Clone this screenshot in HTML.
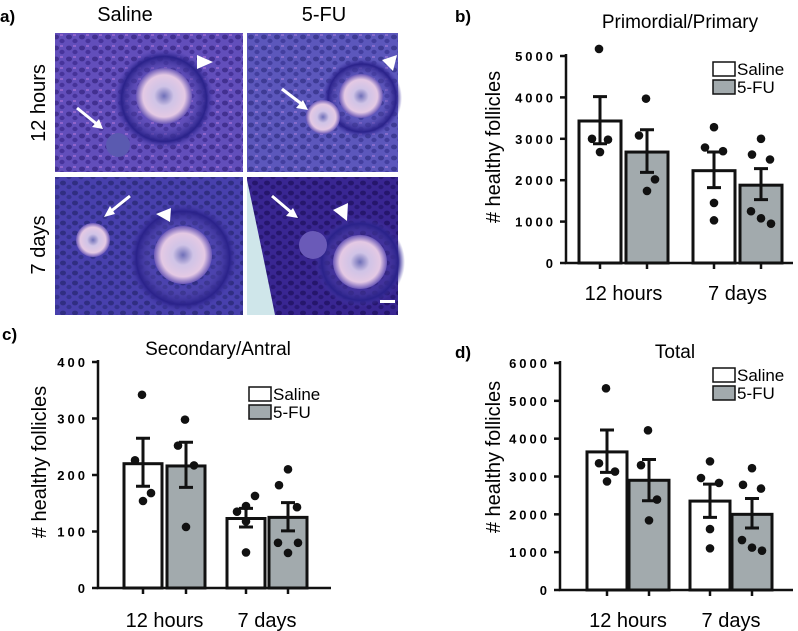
<!DOCTYPE html>
<html><head><meta charset="utf-8"><style>
html,body{margin:0;padding:0;background:#fff;}
svg{display:block;font-family:"Liberation Sans",Arial,sans-serif;}
</style></head><body>
<svg id="fig" width="798" height="631" viewBox="0 0 798 631" xmlns="http://www.w3.org/2000/svg">
<defs>
<radialGradient id="oo" cx="50%" cy="50%" r="50%"><stop offset="0" stop-color="#6f6fb8"/><stop offset="0.35" stop-color="#cfc3e6"/><stop offset="0.75" stop-color="#e4c9e4"/><stop offset="1" stop-color="#6b58b8"/></radialGradient>
<radialGradient id="ring" cx="50%" cy="50%" r="50%"><stop offset="0.5" stop-color="#6a5cc0" stop-opacity="0"/><stop offset="0.85" stop-color="#2a228a"/><stop offset="1" stop-color="#4b3fae" stop-opacity="0"/></radialGradient>
<pattern id="cells" width="13" height="11" patternUnits="userSpaceOnUse"><rect width="13" height="11" fill="#4f48b4"/><ellipse cx="4" cy="4" rx="3" ry="2.4" fill="#24207c"/><ellipse cx="10" cy="8" rx="2.6" ry="2.2" fill="#2a2588"/><rect x="8" y="1" width="3" height="2" fill="#b07ad8" opacity="0.6"/></pattern>
<pattern id="cellsDark" width="12" height="10" patternUnits="userSpaceOnUse"><rect width="12" height="10" fill="#3a2f9e"/><ellipse cx="3" cy="3" rx="3" ry="2.4" fill="#181560"/><ellipse cx="9" cy="7" rx="2.6" ry="2.2" fill="#1f1a70"/></pattern>
</defs>

<text x="0" y="22" font-size="17" font-weight="bold">a)</text>
<text x="125" y="21" font-size="20" text-anchor="middle">Saline</text>
<text x="324" y="21" font-size="20" text-anchor="middle">5-FU</text>
<text transform="translate(45,103) rotate(-90)" font-size="20" text-anchor="middle">12 hours</text>
<text transform="translate(45,245) rotate(-90)" font-size="20" text-anchor="middle">7 days</text>

<g>
<rect x="55" y="33" width="188" height="139" fill="url(#cells)"/>
<rect x="55" y="33" width="188" height="139" fill="#9a5fd0" opacity="0.25"/>
<circle cx="164" cy="99" r="50" fill="url(#ring)"/>
<circle cx="164" cy="96" r="28" fill="url(#oo)"/>
<circle cx="118" cy="145" r="12" fill="#5a5ab0"/>
<polygon points="197,55 213,62 197,69" fill="#fff"/>
<line x1="77" y1="108" x2="98" y2="125" stroke="#fff" stroke-width="3"/><polygon points="103,129 92,127 99,119" fill="#fff"/>
</g>
<g>
<rect x="247" y="33" width="151" height="139" fill="url(#cells)"/>
<rect x="247" y="33" width="151" height="139" fill="#7a7ad0" opacity="0.3"/>
<circle cx="362" cy="98" r="40" fill="url(#ring)"/>
<circle cx="361" cy="96" r="22" fill="url(#oo)"/>
<circle cx="323" cy="117" r="17" fill="url(#oo)"/>
<polygon points="382,60 397,55 393,71" fill="#fff"/>
<line x1="282" y1="89" x2="303" y2="105" stroke="#fff" stroke-width="3"/><polygon points="308,110 296,108 303,100" fill="#fff"/>
</g>
<g>
<rect x="55" y="177" width="188" height="138" fill="url(#cellsDark)"/>
<rect x="55" y="177" width="188" height="138" fill="#6a6ad0" opacity="0.3"/>
<circle cx="183" cy="258" r="55" fill="url(#ring)"/>
<circle cx="183" cy="255" r="29" fill="url(#oo)"/>
<circle cx="93" cy="240" r="17" fill="url(#oo)"/>
<polygon points="171,208 156,214 170,222" fill="#fff"/>
<line x1="130" y1="196" x2="110" y2="212" stroke="#fff" stroke-width="3"/><polygon points="104,217 110,206 115,214" fill="#fff"/>
</g>
<g>
<rect x="247" y="177" width="151" height="138" fill="url(#cellsDark)"/>
<rect x="247" y="177" width="151" height="138" fill="#3a1a80" opacity="0.4"/>
<path d="M247,180 Q262,250 275,315 L247,315 Z" fill="#cfe6ea"/>
<circle cx="360" cy="262" r="45" fill="url(#ring)"/>
<circle cx="360" cy="262" r="27" fill="url(#oo)"/>
<circle cx="313" cy="245" r="14" fill="#6a5ab8"/>
<polygon points="333,210 348,203 347,221" fill="#fff"/>
<line x1="272" y1="196" x2="292" y2="213" stroke="#fff" stroke-width="3"/><polygon points="298,218 286,216 293,208" fill="#fff"/>
<rect x="380" y="300" width="15" height="3" fill="#fff"/>
</g>
<g id="charts"></g>
</svg>
<script>
// ---- Panel b: Primordial/Primary ----
const bCategories = ["12 hours", "7 days"];
const bSalineMeans = [3430, 2230];
const b5fuMeans = [2680, 1880];
const bSalineSem = [[2880, 4020], [1820, 2680]];
const b5fuSem = [[2190, 3220], [1530, 2280]];
const bSalinePts = [[5170, 3000, 2980, 2680], [3280, 2790, 2700, 1450, 1030]];
const b5fuPts = [[3970, 3080, 2020, 1740], [3000, 2620, 2500, 1250, 950, 1080]];
const bTicks = [0, 1000, 2000, 3000, 4000, 5000];

// ---- Panel c: Secondary/Antral ----
const cCategories = ["12 hours", "7 days"];
const cSalineMeans = [220, 123];
const c5fuMeans = [216, 125];
const cSalineSem = [[180, 265], [108, 141]];
const c5fuSem = [[178, 258], [101, 151]];
const cSalinePts = [[342, 226, 168, 154], [145, 135, 163, 118, 63]];
const c5fuPts = [[298, 252, 217, 108], [210, 182, 143, 80, 80, 62]];
const cTicks = [0, 100, 200, 300, 400];

// ---- Panel d: Total ----
const dCategories = ["12 hours", "7 days"];
const dSalineMeans = [3650, 2350];
const d5fuMeans = [2900, 2000];
const dSalineSem = [[3110, 4230], [1920, 2800]];
const d5fuSem = [[2360, 3450], [1640, 2420]];
const dSalinePts = [[5330, 3350, 3130, 2870], [3400, 2960, 2830, 1610, 1100]];
const d5fuPts = [[4220, 3300, 2390, 1840], [3220, 2780, 2680, 1320, 1040, 1120]];
const dTicks = [0, 1000, 2000, 3000, 4000, 5000, 6000];

const NS = "http://www.w3.org/2000/svg";
const root = document.getElementById("charts");
function mk(tag, attrs, parent) {
  const e = document.createElementNS(NS, tag);
  for (const k in attrs) e.setAttribute(k, attrs[k]);
  (parent || root).appendChild(e);
  return e;
}
const jit4 = [-1, -8, 8, 0];
const jit5 = [0, -9, 9, 0, 0];
const jit6 = [0, -9, 9, -10, 10, 0];
function jitter(n, i) { return (n === 4 ? jit4 : n === 5 ? jit5 : jit6)[i] || 0; }

function panel(cfg) {
  const g = mk("g", {});
  
  
  const y = v => cfg.y0 - (v / cfg.topVal) * (cfg.y0 - cfg.yTop);
  const pl = mk("text", {x: cfg.lx, y: cfg.ly, "font-size": 17, "font-weight": "bold"}, g);
  pl.textContent = cfg.letter;
  
  
  const tt = mk("text", {x: cfg.tx, y: cfg.ty, "font-size": 19, "text-anchor": "middle"}, g);
  tt.textContent = cfg.title;
  
  
  const yt = mk("text", {transform: `translate(${cfg.ytx},${cfg.yty}) rotate(-90)`, "font-size": 20, "text-anchor": "middle"}, g);
  yt.textContent = "# healthy follicles";
  
  
  const groups = [[cfg.sMeans, cfg.sSem, cfg.sPts, "#fff", "saline"], [cfg.fMeans, cfg.fSem, cfg.fPts, "#a2aaad", "5fu"]];
  cfg.cats.forEach((cat, ci) => {
    groups.forEach((gr, si) => {
      const cx = cfg.centers[ci * 2 + si];
      const w = cfg.bw;
      const b = mk("rect", {x: cx - w / 2, y: y(gr[0][ci]), width: w, height: cfg.y0 - y(gr[0][ci]), fill: gr[3], stroke: "#111", "stroke-width": 3}, g);
      
      
      const sem = gr[1][ci];
      const eb = mk("path", {d: `M${cx},${y(sem[0])}V${y(sem[1])}M${cx - 7},${y(sem[0])}H${cx + 7}M${cx - 7},${y(sem[1])}H${cx + 7}`, stroke: "#111", "stroke-width": 3, fill: "none"}, g);
      
      
      const pts = gr[2][ci];
      pts.forEach((v, pi) => {
        const p = mk("circle", {cx: cx + jitter(pts.length, pi), cy: y(v), r: 4.3, fill: "#111"}, g);
        
        
      });
    });
    const cl = mk("text", {x: (cfg.centers[ci * 2] + cfg.centers[ci * 2 + 1]) / 2, y: cfg.catY, "font-size": 20, "text-anchor": "middle"}, g);
    cl.textContent = cat;
    
    
  });
  const ax = mk("path", {d: `M${cfg.ax},${cfg.yTop - 2}V${cfg.y0}H${cfg.axEnd}`, stroke: "#111", "stroke-width": 2.5, fill: "none"}, g);
  
  
  cfg.centers.forEach(cx => {
    const t = mk("line", {x1: cx, x2: cx, y1: cfg.y0, y2: cfg.y0 + 6, stroke: "#111", "stroke-width": 2.5}, g);
    
    
  });
  cfg.ticks.forEach(v => {
    const t = mk("line", {x1: cfg.ax - 6, x2: cfg.ax, y1: y(v), y2: y(v), stroke: "#111", "stroke-width": 2.5}, g);
    
    
    const tl = mk("text", {x: cfg.ax - 10, y: y(v) + 5, "font-size": 13, "font-weight": "bold", "text-anchor": "end", "letter-spacing": "3"}, g);
    tl.textContent = String(v);
    
    
  });
  const lg = mk("g", {}, g);
  
  
  [["Saline", "#fff"], ["5-FU", "#a2aaad"]].forEach((l, i) => {
    const r = mk("rect", {x: cfg.legX, y: cfg.legY + i * 18, width: 22, height: 14, fill: l[1], stroke: "#111", "stroke-width": 1.5}, lg);
    
    
    const t = mk("text", {x: cfg.legX + 24, y: cfg.legY + i * 18 + 13, "font-size": 17}, lg);
    t.textContent = l[0];
    
    
  });
}

panel({name: "chart-primordial-primary", letter: "b)", lx: 455, ly: 22, title: "Primordial/Primary", tx: 680, ty: 28,
  ytx: 500, yty: 147, cats: bCategories, sMeans: bSalineMeans, fMeans: b5fuMeans, sSem: bSalineSem, fSem: b5fuSem,
  sPts: bSalinePts, fPts: b5fuPts, ticks: bTicks, topVal: 5000, y0: 263, yTop: 56, ax: 566, axEnd: 793,
  centers: [600, 647, 714, 761], bw: 42, catY: 300, legX: 713, legY: 62});
panel({name: "chart-secondary-antral", letter: "c)", lx: 2, ly: 340, title: "Secondary/Antral", tx: 218, ty: 355,
  ytx: 46, yty: 462, cats: cCategories, sMeans: cSalineMeans, fMeans: c5fuMeans, sSem: cSalineSem, fSem: c5fuSem,
  sPts: cSalinePts, fPts: c5fuPts, ticks: cTicks, topVal: 400, y0: 588, yTop: 362, ax: 98, axEnd: 331,
  centers: [143, 186, 246, 288], bw: 38, catY: 627, legX: 249, legY: 387});
panel({name: "chart-total", letter: "d)", lx: 455, ly: 358, title: "Total", tx: 675, ty: 358,
  ytx: 500, yty: 457, cats: dCategories, sMeans: dSalineMeans, fMeans: d5fuMeans, sSem: dSalineSem, fSem: d5fuSem,
  sPts: dSalinePts, fPts: d5fuPts, ticks: dTicks, topVal: 6000, y0: 590, yTop: 363, ax: 560, axEnd: 793,
  centers: [607, 649, 710, 752], bw: 40, catY: 627, legX: 713, legY: 368});
</script>
</body></html>
